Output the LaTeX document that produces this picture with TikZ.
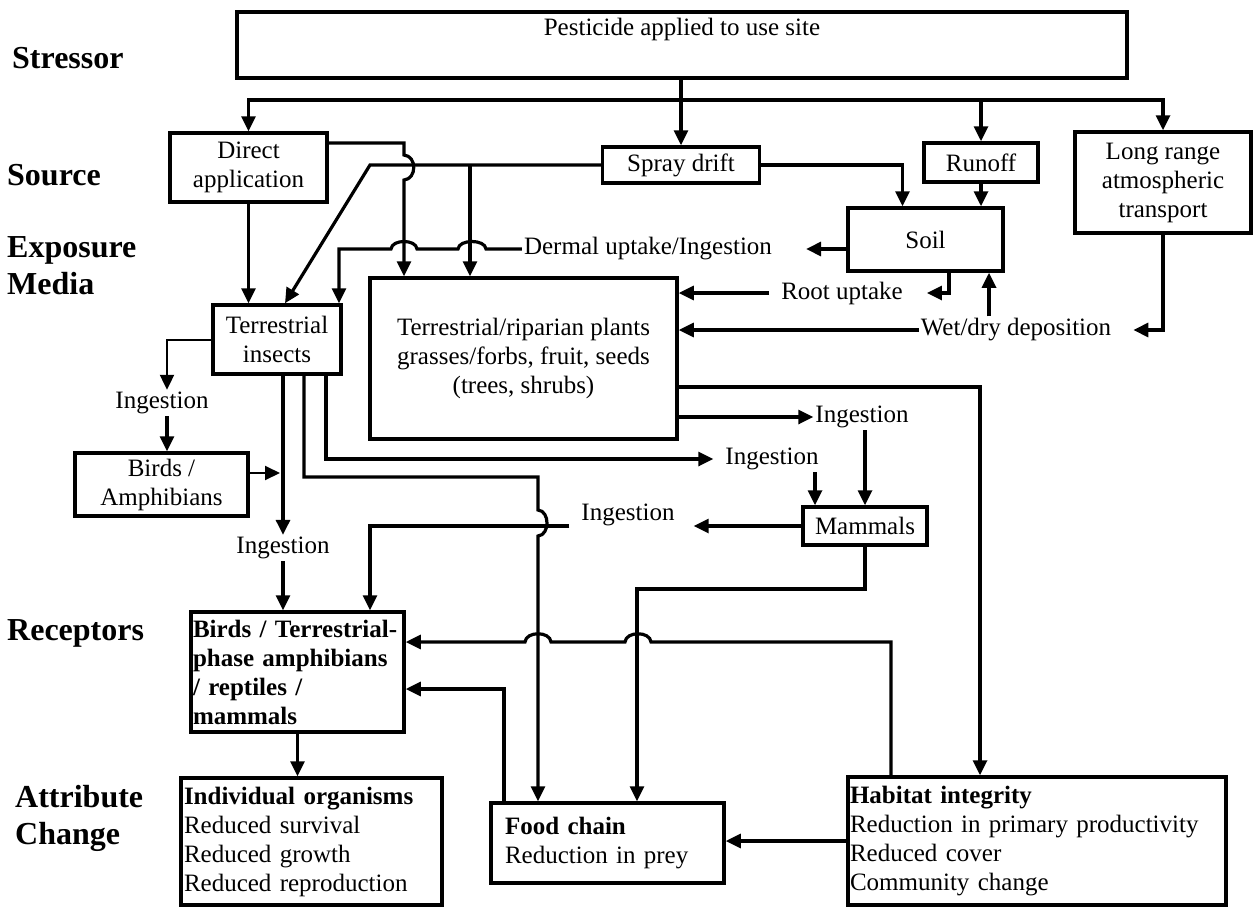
\documentclass[tikz,border=0pt]{standalone}
\usepackage{fontspec}
\setmainfont{Liberation Serif}
\usetikzlibrary{arrows.meta}

\begin{document}
\begin{tikzpicture}[x=1pt,y=-1pt,
	font=\fontsize{25}{29}\selectfont,
	box/.style={draw,line width=3.5pt,inner sep=2pt,align=center},
	lbox/.style={draw,line width=3.5pt,inner sep=3pt,align=left},
	txt/.style={inner sep=2pt},
	tier/.style={font=\fontsize{32}{37}\selectfont\bfseries,align=left,anchor=west,inner sep=0pt},
	arr/.style={line width=3.2pt,-{Triangle[length=15pt,width=14pt]}},
	thinarr/.style={line width=2pt,-{Triangle[length=15pt,width=14pt]}}]
	\fill[white] (0,0) rectangle (1257,907);
	% tiers
	\node[tier] (stressor) at (12,58) {Stressor};
	\node[tier] (source) at (7,175) {Source};
	\node[tier] (exposure) at (7,266) {Exposure\\Media};
	\node[tier] (receptorslbl) at (7,633) {Receptors};
	\node[tier] (attribute) at (15,818) {Attribute\\Change};
	% boxes
	\node[box,minimum width=890pt,minimum height=66pt] (pesticide) at (682,45) {};
	\node[txt,anchor=north] (pesticidetxt) at ([yshift=-6pt]pesticide.north) {Pesticide applied to use site};
	\node[box,minimum width=157pt,minimum height=69pt] (direct) at (248.5,167.5) {Direct\\application};
	\node[box,minimum width=157pt,minimum height=36pt] (spray) at (681,165) {Spray drift};
	\node[box,minimum width=114pt,minimum height=39pt] (runoff) at (981,162.5) {Runoff};
	\node[box,minimum width=176pt,minimum height=101pt] (longrange) at (1163,182.5) {Long range\\atmospheric\\transport};
	\node[box,minimum width=155pt,minimum height=63pt] (soil) at (925.5,239.5) {Soil};
	\node[box,minimum width=307pt,minimum height=161pt] (plants) at (523.5,358.5) {Terrestrial/riparian plants\\grasses/forbs, fruit, seeds\\(trees, shrubs)};
	\node[box,minimum width=128pt,minimum height=69pt] (insects) at (277,339.5) {Terrestrial\\insects};
	\node[box,minimum width=173pt,minimum height=63pt] (birdsamph) at (161.5,484.5) {Birds /\\Amphibians};
	\node[box,minimum width=124pt,minimum height=38pt] (mammals) at (865,526) {Mammals};
	\node[lbox,inner sep=2pt,text width=209pt,minimum height=120pt] (receptors) at (297.5,672) {\bfseries Birds / Terrestrial-\\phase amphibians\\/ reptiles /\\mammals};
	\node[lbox,text width=255pt,minimum height=127pt] (individual) at (311.5,841.5) {\textbf{Individual organisms}\\Reduced survival\\Reduced growth\\Reduced reproduction};
	\node[lbox,inner xsep=14pt,text width=205pt,minimum height=80pt] (foodchain) at (607.5,843) {\textbf{Food chain}\\Reduction in prey};
	\node[lbox,inner xsep=2pt,text width=374pt,minimum height=128pt] (habitat) at (1037,841) {\textbf{Habitat integrity}\\Reduction in primary productivity\\Reduced cover\\Community change};
	% labels on the routes
	\node[txt] (dermal) at (648,249) {Dermal uptake/Ingestion};
	\node[txt] (root) at (842,293) {Root uptake};
	\node[txt] (wetdry) at (1016,330) {Wet/dry deposition};
	\node[txt] (ingA) at (162,403) {Ingestion};
	\node[txt] (ingB) at (283,548) {Ingestion};
	\node[txt] (ingC) at (862,417) {Ingestion};
	\node[txt] (ingD) at (772,459) {Ingestion};
	\node[txt] (ingE) at (628,515) {Ingestion};
	\coordinate (split) at (681,100);
	\coordinate (sd) at (470,165);
	\coordinate (leg1) at ([xshift=6pt]insects.south);
	\coordinate (leg2) at ([xshift=27pt]insects.south);
	\coordinate (leg3) at ([xshift=49pt]insects.south);
	\coordinate (fcA) at ([xshift=-69.5pt]foodchain.north);
	\coordinate (fcB) at ([xshift=29.5pt]foodchain.north);
	\coordinate (fcC) at ([xshift=-103.5pt]foodchain.north);
	\coordinate (hA) at ([xshift=-57pt]habitat.north);
	\coordinate (hB) at ([xshift=-146pt]habitat.north);
	\coordinate (rB) at ([xshift=72.5pt]receptors.north);
	\coordinate (mA) at ([xshift=-50pt]mammals.north);
	% stressor -> sources
	\draw[arr] (pesticide.south -| spray.north) -- (spray.north);
	\draw[arr] (split) -| (direct.north);
	\draw[arr] (split) -| (runoff.north);
	\draw[arr] (split) -| (longrange.north);
	% sources -> media
	\draw[arr] (direct.south) -- (direct.south |- insects.north);
	\draw[arr] ([yshift=24.5pt]direct.east) -| (404,155) .. controls (417,156) and (417,179) .. (404,180) -- (404,0 |- plants.north);
	\draw[arr] (spray.west) -- (370,165) -- ([xshift=8pt]insects.north);
	\draw[arr] (sd) -- (sd |- plants.north);
	\draw[arr] (dermal.west) -- (486,249) .. controls (485,239) and (459,239) .. (458,249) -- (417,249) .. controls (416,239) and (392,239) .. (391,249) -- (339,249) -- (339,0 |- insects.north);
	\draw[arr] (spray.east) -| ([xshift=-23pt]soil.north);
	\draw[arr] (runoff.south) -- (runoff.south |- soil.north);
	\draw[arr,shorten >=32pt] (soil.west |- dermal.east) -- (dermal.east);
	\draw[arr,shorten >=22pt] ([xshift=23.5pt]soil.south) |- (root.east);
	\draw[arr] ([xshift=-10pt]root.west) -- (root.west -| plants.east);
	\draw[arr] ([xshift=-27pt]wetdry.north) -- ([xshift=-27pt]wetdry.north |- soil.south);
	\draw[arr] (wetdry.west) -- (wetdry.west -| plants.east);
	\draw[arr,shorten >=20pt] (longrange.south) |- (wetdry.east);
	% insects
	\draw[thinarr] (insects.west) -| (167,0 |- ingA.north);
	\draw[arr] (167,0 |- ingA.south) -- (167,0 |- birdsamph.north);
	\draw[thinarr,shorten >=3pt] ([yshift=11.5pt]birdsamph.east) -- ([yshift=11.5pt]birdsamph.east -| leg1);
	\draw[arr] (leg1) -- (leg1 |- ingB.north);
	\draw[arr] (ingB.south -| leg1) -- (leg1 |- receptors.north);
	\draw[arr] (leg2) |- (538,477) -- (538,510) .. controls (550,511) and (550,535) .. (538,536) -- (fcA);
	\draw[arr,shorten >=10pt] (leg3) |- (ingD.west);
	% plants, mammals
	\draw[arr] (plants.east |- ingC.west) -- (ingC.west);
	\draw[arr] (ingC.south -| mammals.north) -- (mammals.north);
	\draw[arr] (ingD.south -| mA) -- (mA);
	\draw[arr] (plants.east |- 0,387) -| (hA);
	\draw[arr,shorten >=17pt] (mammals.west) -- (mammals.west -| ingE.east);
	\draw[arr] ([xshift=-10pt]ingE.west |- mammals.west) -| (rB);
	\draw[arr] (mammals.south) |- (fcB |- 0,589) -- (fcB);
	% attribute change
	\draw[arr] (hB) |- (651,642) .. controls (650,631) and (626,631) .. (625,642) -- (551,642) .. controls (550,631) and (526,631) .. (525,642) -- (receptors.east |- 0,642);
	\draw[arr] (fcC) |- (receptors.east |- 0,689);
	\draw[arr] (habitat.west) -- (habitat.west -| foodchain.east);
	\draw[arr] (receptors.south) -- (receptors.south |- individual.north);
\end{tikzpicture}
\end{document}
